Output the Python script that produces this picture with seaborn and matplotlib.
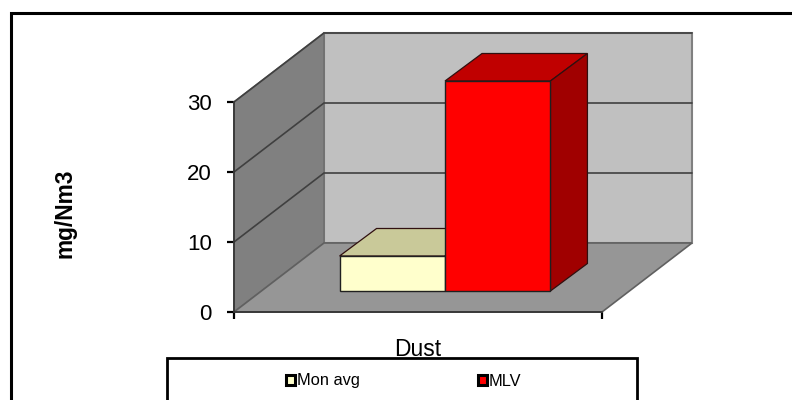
import pandas as pd
import seaborn as sns
import matplotlib.pyplot as plt
from matplotlib.lines import Line2D
from matplotlib.patches import Polygon, Rectangle

categories = ['Dust']
series = ['Mon avg', 'MLV']
values = [5, 30]
y_ticks = [0, 10, 20, 30]

bar_colors = ['#FFFFCC', '#FF0000']
top_colors = ['#C9C999', '#C00000']
side_colors = ['#B0B080', '#A00000']

sns.set_style('white')
plt.rcParams['font.family'] = ['Liberation Sans', 'DejaVu Sans']

W, H = 792, 400
fig = plt.figure(figsize=(W / 100, H / 100), dpi=100)
ax = fig.add_axes([234 / W, 1 - 312 / H, 368 / W, 210 / H])

df = pd.DataFrame({'group': categories * len(series), 'series': series, 'value': values})
sns.barplot(data=df, x='group', y='value', hue='series', palette=bar_colors,
            width=0.573, gap=0, edgecolor='#202020', linewidth=1.0, saturation=1, ax=ax, zorder=5)
ax.set_xlim(-0.5, 0.5)
ax.set_ylim(0, 30)

# depth of the fake 3d box, in data units
wall_dx = 90 / 368
wall_dy = 69 / 7
# bars stand partway into the floor
off_dx = 27 / 368
off_dy = 21 / 7
bar_dx = 37 / 368
bar_dy = 27.5 / 7

x0, x1 = ax.get_xlim()
y0, y1 = ax.get_ylim()


def face(pts, color, z, edge='#5A5A5A', lw=1.2):
    ax.add_patch(Polygon(pts, closed=True, facecolor=color, edgecolor=edge, linewidth=lw,
                         zorder=z, clip_on=False))


# back wall, left wall, floor
face([(x0 + wall_dx, y0 + wall_dy), (x1 + wall_dx, y0 + wall_dy),
      (x1 + wall_dx, y1 + wall_dy), (x0 + wall_dx, y1 + wall_dy)], '#C0C0C0', 1, edge='#808080', lw=1.5)
face([(x0, y0), (x0 + wall_dx, y0 + wall_dy), (x0 + wall_dx, y1 + wall_dy), (x0, y1)], '#808080', 1, edge='#707070')
face([(x0, y0), (x1, y0), (x1 + wall_dx, y0 + wall_dy), (x0 + wall_dx, y0 + wall_dy)], '#969696', 1, edge='#606060')

for t in y_ticks[1:]:
    ax.plot([x0, x0 + wall_dx, x1 + wall_dx], [t, t + wall_dy, t + wall_dy], color='#404040',
            linewidth=1.2, zorder=2, clip_on=False, solid_joinstyle='miter')

bars = [b for c in ax.containers for b in c]
for i, b in enumerate(bars):
    b.set_x(b.get_x() + off_dx)
    b.set_y(b.get_y() + off_dy)
    b.set_clip_on(False)
    b.set_zorder(5 + i * 2)
    l, r = b.get_x(), b.get_x() + b.get_width()
    bot, top = b.get_y(), b.get_y() + b.get_height()
    face([(l, top), (r, top), (r + bar_dx, top + bar_dy), (l + bar_dx, top + bar_dy)],
         top_colors[i], 4 + i * 2, edge='#301010', lw=0.9)
    face([(r, bot), (r + bar_dx, bot + bar_dy), (r + bar_dx, top + bar_dy), (r, top)],
         side_colors[i], 4 + i * 2, edge='#301010', lw=0.9)

sns.despine(ax=ax, top=True, right=True)
for s in ['left', 'bottom']:
    ax.spines[s].set_color('#303030')
    ax.spines[s].set_linewidth(1.2)
    ax.spines[s].set_zorder(3)
ax.set_yticks(y_ticks)
ax.set_xticks([x0, x1])
ax.set_xticklabels([])
ax.tick_params(axis='y', length=5, width=1.6, color='black', pad=11, labelsize=16, left=True, labelcolor='black')
ax.tick_params(axis='x', length=5, width=1.6, color='black', bottom=True)
ax.set_xlabel(categories[0], fontsize=16.5, labelpad=10, color='black')
ax.set_ylabel('mg/Nm3', fontsize=16.4, fontweight='bold', color='black')
ax.yaxis.set_label_coords((76 - 234) / 368, 0.47)

# outer chart frame: only top and left sides show, both run off the picture
fig.add_artist(Line2D([11 / W, 11 / W, 1], [0, 1 - 13 / H, 1 - 13 / H], color='black', linewidth=2.2,
                      solid_joinstyle='miter'))
# legend frame also runs past the bottom
fig.add_artist(Rectangle((167 / W, -0.05), 470 / W, 1.05 - 358 / H, transform=fig.transFigure,
                         facecolor='white', edgecolor='black', linewidth=2, zorder=0))

handles, labels = ax.get_legend_handles_labels()
leg = ax.legend(handles, labels, ncol=2, frameon=False, loc='center left',
                bbox_to_anchor=(286 / W, 1 - 381 / H), bbox_transform=fig.transFigure,
                fontsize=11.8, handlelength=0.55, handleheight=0.55, handletextpad=0.12,
                columnspacing=7.2, borderpad=0, borderaxespad=0)
for t in leg.get_texts():
    t.set_color('black')
for p in leg.get_patches():
    p.set_edgecolor('black')
    p.set_linewidth(2.2)

fig.savefig('out.png', dpi=100)
